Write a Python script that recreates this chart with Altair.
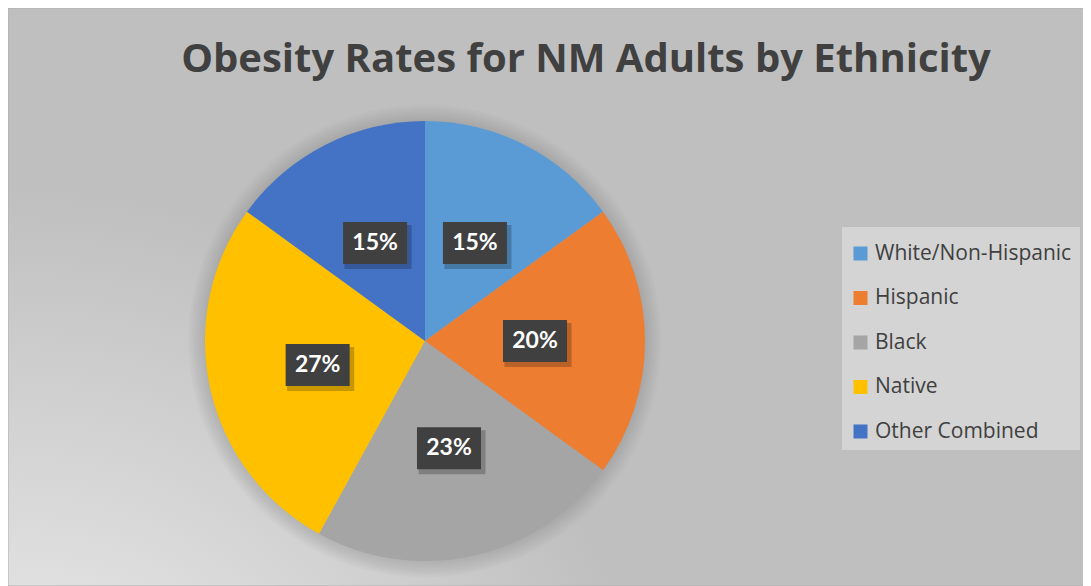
import math
import altair as alt
import pandas as pd

TITLE = "Obesity Rates for NM Adults by Ethnicity"
categories = ["White/Non-Hispanic", "Hispanic", "Black", "Native", "Other Combined"]
values = [15, 20, 23, 27, 15]
colors = ["#5B9BD5", "#ED7D31", "#A5A5A5", "#FFC000", "#4472C4"]

df = pd.DataFrame({"cat": categories, "value": values, "order": list(range(len(categories)))})
one = pd.DataFrame({"a": [0]})

W, H = 1075, 578
CX, CY, R = 417, 333, 220
LR = 110
FONT = "Lato"
TFONT = "Open Sans"

bg = alt.Chart(one).mark_rect(
    color=alt.RadialGradient(
        gradient="radial",
        stops=[alt.GradientStop(offset=0, color="#ffffff"),
               alt.GradientStop(offset=0.35, color="#e2e2e2"),
               alt.GradientStop(offset=1, color="#bfbfbf")],
        x1=0, y1=1, r1=0, x2=0, y2=1, r2=0.6),
    stroke="#b0b0b0", strokeWidth=1,
).encode(x=alt.value(0), x2=alt.value(W + 20), y=alt.value(0), y2=alt.value(H))

halos = [
    alt.Chart(one).mark_arc(theta=0, theta2=2 * math.pi, outerRadius=R + 1 + 2.2 * i,
                            color="black", opacity=0.016)
    .encode(x=alt.value(CX), y=alt.value(CY))
    for i in range(8)
]

pie = alt.Chart(df).mark_arc(outerRadius=R).encode(
    theta=alt.Theta("value:Q", stack=True),
    color=alt.Color("cat:N", sort=categories,
                    scale=alt.Scale(domain=categories, range=colors),
                    legend=alt.Legend(title=" ", titleFontSize=6, titlePadding=2,
                                      titleColor="#d4d4d4",
                                      orient="none", legendX=834, legendY=219,
                                      fillColor="#d4d4d4", padding=8,
                                      symbolType="square", symbolSize=196,
                                      symbolStrokeWidth=0, symbolOpacity=1,
                                      labelFont=TFONT, labelFontSize=21, labelColor="#404040",
                                      labelOffset=4, rowPadding=22.5, labelLimit=400)),
    order=alt.Order("order:Q"),
    x=alt.value(CX), y=alt.value(CY),
)

lab = alt.Chart(df).transform_window(
    cum="sum(value)", sort=[alt.SortField("order")], frame=[None, 0]
).transform_joinaggregate(total="sum(value)").transform_calculate(
    ang="2*PI*(datum.cum - datum.value/2)/datum.total",
    px=f"{CX} + {LR}*sin(datum.ang)",
    py=f"{CY} - {LR}*cos(datum.ang)",
    sx="datum.px + 3",
    sy="datum.py + 4",
    label="datum.value + '%'",
)

BOX = "M-1,-0.656L1,-0.656L1,0.656L-1,0.656Z"
shadow = lab.mark_point(shape=BOX, size=4500, filled=True, color="black", opacity=0.22).encode(
    x=alt.X("sx:Q", scale=None, axis=None), y=alt.Y("sy:Q", scale=None, axis=None))
box = lab.mark_point(shape=BOX, size=4096, filled=True, color="#404040", opacity=1).encode(
    x=alt.X("px:Q", scale=None, axis=None), y=alt.Y("py:Q", scale=None, axis=None))
txt = lab.mark_text(font=FONT, fontWeight="bold", fontSize=23, color="white",
                    align="center", baseline="middle").encode(
    x=alt.X("px:Q", scale=None, axis=None), y=alt.Y("py:Q", scale=None, axis=None),
    text="label:N")

title = alt.Chart(one).mark_text(font=TFONT, fontWeight="bold", fontSize=40, color="#404040",
                                 align="center", baseline="alphabetic").encode(
    x=alt.value(578), y=alt.value(64), text=alt.value(TITLE))

chart = alt.layer(bg, *halos, pie, shadow, box, txt, title).properties(
    width=W, height=H, padding=0, autosize=alt.AutoSizeParams(type="none")
).configure_view(stroke=None)

chart.save("out.html", embed_options={"renderer": "svg", "actions": False})
